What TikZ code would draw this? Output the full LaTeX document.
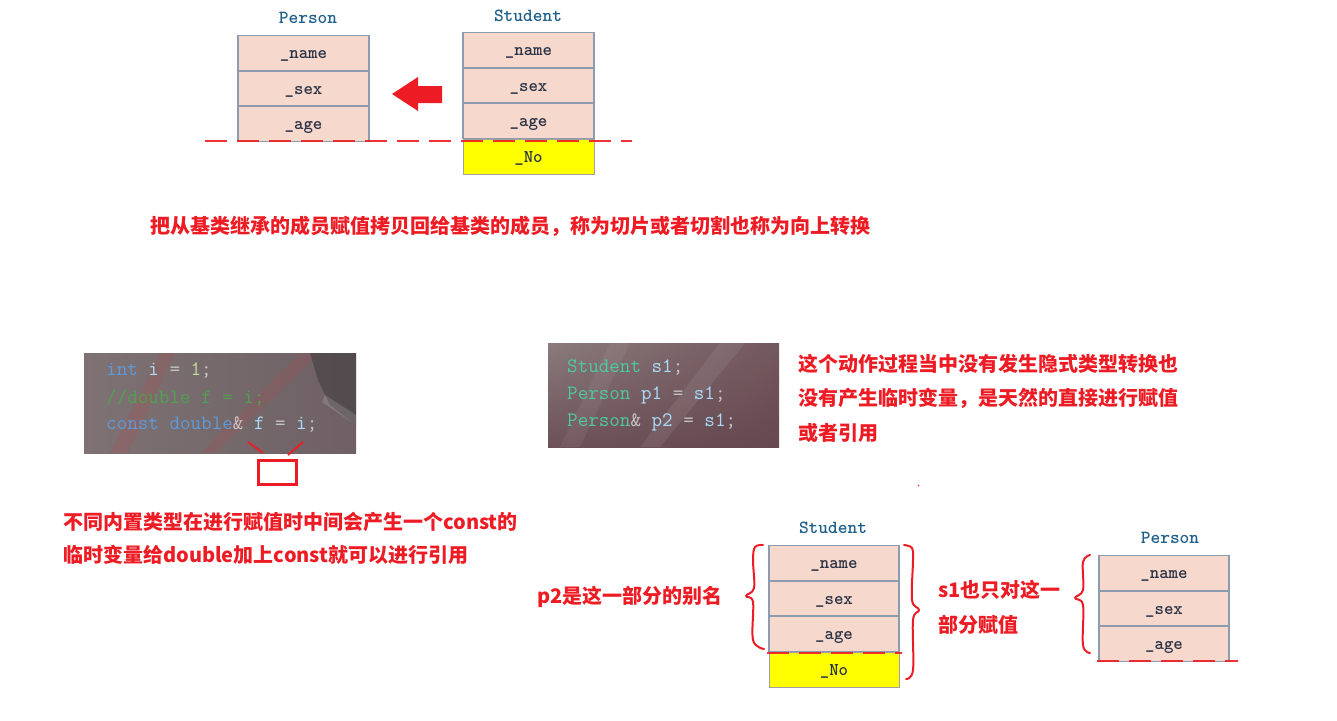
\documentclass[tikz,border=0pt]{standalone}
\usepackage{fontspec}
\newfontfamily\cjk{Noto Sans CJK SC}
\usetikzlibrary{calc,shadings}
\definecolor{cellfill}{HTML}{F7D8CC}
\definecolor{cellborder}{HTML}{8C9BB0}
\definecolor{celltext}{HTML}{2A3346}
\definecolor{lblblue}{HTML}{1F5F8B}
\definecolor{redc}{HTML}{ED1C24}
\definecolor{yel}{HTML}{FFFF00}
\definecolor{yelborder}{HTML}{A0A0A0}
\definecolor{kw}{HTML}{5E9BDB}
\definecolor{var}{HTML}{A8DCFA}
\definecolor{num}{HTML}{C5D9A2}
\definecolor{op}{HTML}{C8C8C8}
\definecolor{cmt}{HTML}{4FA24F}
\definecolor{typ}{HTML}{4EC9A0}
\definecolor{bgA}{HTML}{7E7274}
\definecolor{bgB}{HTML}{6E6064}
\definecolor{bgC}{HTML}{8A7B7C}
\definecolor{bgD}{HTML}{66484F}
\definecolor{bgE}{HTML}{73585E}
\definecolor{bgF}{HTML}{6C5158}
\newcommand\cellfont{\ttfamily\bfseries\fontsize{18}{18}\selectfont}
\newcommand\titlefont{\ttfamily\bfseries\fontsize{18.5}{19}\selectfont}
\newcommand\codefont{\ttfamily\fontsize{20.5}{21}\selectfont}
\newcommand\notefont{\cjk\bfseries\fontsize{20}{20}\selectfont}
\tikzset{
  cell/.style={draw=cellborder, line width=1.5pt, fill=cellfill, minimum width=131pt,
    minimum height=35.4pt, inner sep=0pt, font=\cellfont, text=celltext,
    text height=11pt, text depth=0pt},
  nocell/.style={cell, draw=yelborder, line width=0.8pt, fill=yel},
  title/.style={font=\titlefont, text=lblblue, inner sep=0pt},
  cutline/.style={draw=redc, line width=2pt, dash pattern=on 22pt off 10pt, opacity=0.9},
  brace/.style={draw=redc, line width=2pt, line join=round, line cap=round},
  note/.style={font=\notefont, text=redc, anchor=west, inner sep=0pt},
  codeline/.style={font=\codefont, anchor=west, inner sep=0pt},
  markbox/.style={draw=redc, line width=2.5pt}
}
\begin{document}
\begin{tikzpicture}[x=1pt,y=-1pt]
\useasboundingbox (0,0) rectangle (1337,720);

% ---------- top: Person / Student ----------
\node[title] (tpT) at (308,18) {Person};
\node[cell] (tp1) at (303.5,53.2) {\_name};
\node[cell] (tp2) at (303.5,88.5) {\_sex};
\node[cell] (tp3) at (303.5,123.8) {\_age};

\node[title] (tsT) at (528,16) {Student};
\node[cell] (ts1) at (528.5,50) {\_name};
\node[cell] (ts2) at (528.5,85.5) {\_sex};
\node[cell] (ts3) at (528.5,121) {\_age};
\node[nocell] (ts4) at (528.5,157) {\_No};

\coordinate (cutA) at (205,141);
\coordinate (cutB) at (632,141);
\draw[cutline] (cutA) -- (cutB);

\fill[redc] (392,94) -- (418,77) -- (418,86) -- (442,86) -- (442,103) -- (418,103) -- (418,111) -- cycle;

\node[note] (t1) at (150,226) {把从基类继承的成员赋值拷贝回给基类的成员，称为切片或者切割也称为向上转换};

% ---------- code box 1 ----------
\begin{scope}
\clip (84,353) rectangle (356,453);
\shade[left color=bgA, right color=bgB] (84,353) rectangle (356,453);
\fill[red!45!gray, opacity=0.2] (110,453) -- (160,353) -- (175,353) -- (128,453) -- cycle;
\fill[red!45!gray, opacity=0.18] (200,453) -- (300,353) -- (320,353) -- (215,453) -- cycle;
\fill[black!80, opacity=0.45] (310,353) -- (356,353) -- (356,425) -- (330,405) -- (318,380) -- cycle;
\fill[white, opacity=0.15] (325,395) -- (356,415) -- (356,425) -- (322,402) -- cycle;
\end{scope}
\node[codeline] (c11) at (106,371) {\textcolor{kw}{int} \textcolor{var}{i} \textcolor{op}{=} \textcolor{num}{1}\textcolor{op}{;}};
\node[codeline] (c12) at (106,398) {\textcolor{cmt}{//double f = i;}};
\node[codeline] (c13) at (106,425) {\textcolor{kw}{const double}\textcolor{op}{\&} \textcolor{var}{f} \textcolor{op}{=} \textcolor{var}{i}\textcolor{op}{;}};

\coordinate (m1a) at (248,442);
\coordinate (m1b) at (263,453);
\coordinate (m2a) at (303,442);
\coordinate (m2b) at (288,455);
\draw[redc, line width=1.8pt] (m1a) -- (m1b);
\draw[redc, line width=1.8pt] (m2a) -- (m2b);
\node[markbox, minimum width=38pt, minimum height=24pt, inner sep=0pt] (tmp) at (277.5,472.5) {};

\node[note] (t2a) at (63,522) {不同内置类型在进行赋值时中间会产生一个const的};
\node[note] (t2b) at (63,555) {临时变量给double加上const就可以进行引用};

% ---------- code box 2 ----------
\begin{scope}
\clip (548,343) rectangle (779,447);
\shade[upper left=bgC, lower right=bgD, upper right=bgE, lower left=bgF] (548,343) rectangle (779,447);
\fill[white, opacity=0.08] (640,447) -- (720,343) -- (745,343) -- (660,447) -- cycle;
\fill[white, opacity=0.06] (560,447) -- (610,343) -- (630,343) -- (580,447) -- cycle;
\end{scope}
\node[codeline] (c21) at (567,368) {\textcolor{typ}{Student} \textcolor{var}{s1}\textcolor{op}{;}};
\node[codeline] (c22) at (567,395) {\textcolor{typ}{Person} \textcolor{var}{p1} \textcolor{op}{=} \textcolor{var}{s1}\textcolor{op}{;}};
\node[codeline] (c23) at (567,422) {\textcolor{typ}{Person}\textcolor{op}{\&} \textcolor{var}{p2} \textcolor{op}{=} \textcolor{var}{s1}\textcolor{op}{;}};

\node[note] (t3a) at (798,364) {这个动作过程当中没有发生隐式类型转换也};
\node[note] (t3b) at (798,398) {没有产生临时变量，是天然的直接进行赋值};
\node[note] (t3c) at (798,433) {或者引用};
\fill[redc] (918.5,485.5) circle (0.9);

% ---------- bottom: Student ----------
\node[title] (bsT) at (833,528) {Student};
\node[cell, minimum width=130pt] (bs1) at (834,563) {\_name};
\node[cell, minimum width=130pt] (bs2) at (834,598.5) {\_sex};
\node[cell, minimum width=130pt] (bs3) at (834,634) {\_age};
\node[nocell, minimum width=130pt] (bs4) at (834,670) {\_No};
\coordinate (cutC) at (767,653);
\coordinate (cutD) at (902,653);
\draw[cutline] (cutC) -- (cutD);

\draw[brace] plot[smooth, tension=0.6] coordinates {(763,545) (755,547) (753,560) (754,588) (746,596) (753,602) (753,640) (764,649)};
\draw[brace] plot[smooth, tension=0.6] coordinates {(904,545) (912,548) (913,560) (912,600) (919,610) (913,620) (913,670) (906,679)};

\node[note] (t4) at (537,597) {p2是这一部分的别名};
\node[note] (t5a) at (938,590) {s1也只对这一};
\node[note] (t5b) at (938,625) {部分赋值};

% ---------- bottom: Person ----------
\node[title] (bpT) at (1170,538) {Person};
\node[cell, minimum width=130pt] (bp1) at (1164,573) {\_name};
\node[cell, minimum width=130pt] (bp2) at (1164,608.5) {\_sex};
\node[cell, minimum width=130pt] (bp3) at (1164,644) {\_age};
\coordinate (cutE) at (1097,661);
\coordinate (cutF) at (1238,661);
\draw[cutline] (cutE) -- (cutF);
\draw[brace] plot[smooth, tension=0.6] coordinates {(1090,555) (1083,562) (1083,590) (1075,598) (1083,605) (1083,645) (1090,653)};
\end{tikzpicture}
\end{document}
